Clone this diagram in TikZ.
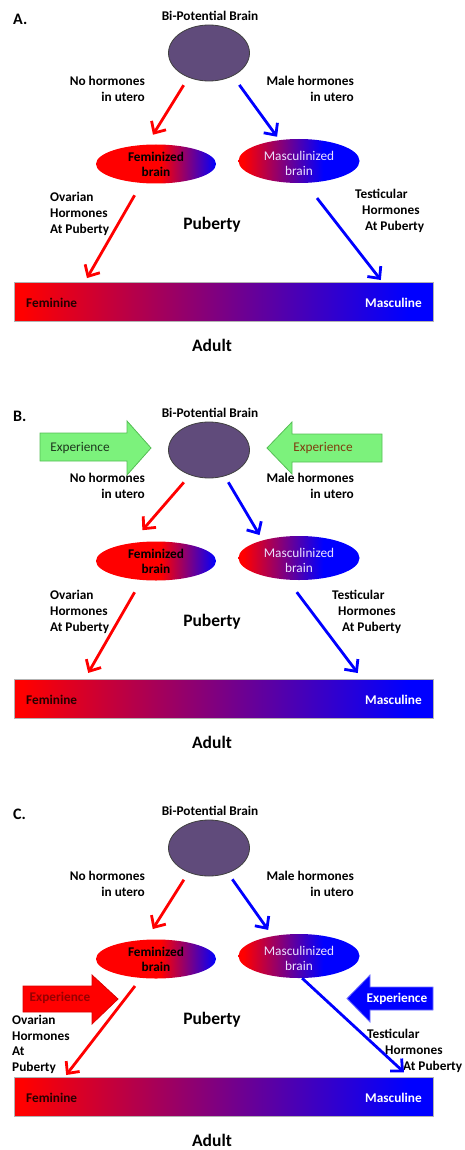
\documentclass[tikz,border=0pt]{standalone}
\usepackage{fontspec}
\setmainfont{Carlito}
\usetikzlibrary{arrows.meta, positioning, shapes.geometric}
\definecolor{brainpurple}{RGB}{96,75,123}
\definecolor{expgreen}{RGB}{124,242,124}
\definecolor{expgreenline}{RGB}{86,190,86}
\definecolor{expbrown}{RGB}{128,60,14}
\definecolor{expdark}{RGB}{30,55,30}
\definecolor{darkred}{RGB}{150,0,0}
\definecolor{lavender}{RGB}{235,225,255}
\pgfdeclarehorizontalshading{femshade}{100bp}{color(0bp)=(red); color(52bp)=(red); color(75bp)=(blue); color(100bp)=(blue)}
\pgfdeclarehorizontalshading{mascshade}{100bp}{color(0bp)=(red); color(27bp)=(red); color(60bp)=(blue); color(100bp)=(blue)}
\pgfdeclarehorizontalshading{barshade}{100bp}{color(0bp)=(red); color(26bp)=(red); color(72bp)=(blue); color(100bp)=(blue)}

\begin{document}
\begin{tikzpicture}[x=1pt, y=-1pt,
  lbl/.style={font=\fontsize{13.3}{16}\selectfont\bfseries, inner sep=0pt},
  big/.style={font=\fontsize{17.5}{20}\selectfont\bfseries, inner sep=0pt},
  panel/.style={font=\fontsize{16}{18}\selectfont\bfseries, inner sep=0pt},
  brain/.style={ellipse, draw=black!75, line width=0.8pt, fill=brainpurple, minimum width=81pt, minimum height=56pt, inner sep=0pt},
  fembrain/.style={ellipse, shade, shading=femshade, minimum width=120pt, minimum height=39pt, inner sep=0pt},
  mascbrain/.style={ellipse, shade, shading=mascshade, minimum width=121pt, minimum height=44pt, inner sep=0pt},
  scalebar/.style={rectangle, draw=black!30, line width=0.6pt, shade, shading=barshade, minimum width=419pt, minimum height=39pt, inner sep=0pt, outer sep=0pt},
  redarr/.style={draw=red, line width=2.8pt, -{Straight Barb[length=9pt,width=17pt]}},
  bluearr/.style={redarr, draw=blue},
  expshape/.style={line width=0.8pt, line join=miter}
]
  \useasboundingbox (0,0) rectangle (464,1150);

  % Shared layout of the three panels
  \foreach \p/\oy in {A/0, B/397, C/795} {
    \begin{scope}[shift={(0,\oy)}]
      \node[panel, anchor=west] (letter\p) at (13,19) {\p.};
      \node[lbl] (bi\p) at (210,16) {Bi-Potential Brain};
      \node[brain] (brain\p) at (209,53) {};
      \node[lbl, anchor=east, align=right] (no\p) at (145,89) {No hormones\\in utero};
      \node[lbl, anchor=east, align=right] (male\p) at (354,89) {Male hormones\\in utero};
      \node[fembrain] (fem\p) at (156,164) {};
      \node[lbl, align=center, font=\fontsize{13.3}{15.5}\selectfont\bfseries] (femlbl\p) at (156,164.5) {Feminized\\brain};
      \node[mascbrain] (masc\p) at (299,161) {};
      \node[lbl, align=center, text=lavender, font=\fontsize{13.3}{15.5}\selectfont] (masclbl\p) at (299,163.5) {Masculinized\\brain};
      \node[big] (pub\p) at (212,225) {Puberty};
      \node[scalebar] (bar\p) at (223.5,301.5) {};
      \node[lbl, anchor=west, text=black!85!red] (femin\p) at (26,303) {Feminine};
      \node[lbl, anchor=east, text=white] (mascu\p) at (422,303) {Masculine};
      \node[big] (adult\p) at (212,345) {Adult};
    \end{scope}
  }

  % Panel A
  \node[lbl, anchor=west, align=left] (ovA) at (50,214) {Ovarian\\Hormones\\At Puberty};
  \node[lbl, anchor=west, align=left] (testA) at (355,211) {Testicular\\\hspace*{7pt}Hormones\\\hspace*{10pt}At Puberty};
  \draw[redarr, shorten <=9pt, shorten >=11.5pt] (brainA.230) -- (femA.115);
  \draw[bluearr, shorten <=11pt, shorten >=4pt] (brainA.316) -- (mascA.133);
  \draw[redarr, shorten <=14pt, shorten >=4.5pt] (femA.233) -- (barA.172);
  \draw[bluearr, shorten <=19pt, shorten >=2.5pt] (mascA.286) -- (barA.7);

  % Panel B
  \node[lbl, anchor=west, align=left] (ovB) at (50,612) {Ovarian\\Hormones\\At Puberty};
  \node[lbl, anchor=west, align=left] (testB) at (332,612) {Testicular\\\hspace*{6pt}Hormones\\\hspace*{10pt}At Puberty};
  \draw[redarr, shorten <=9.5pt, shorten >=17pt] (brainB.233) -- (femB.144);
  \draw[bluearr, shorten <=7pt, shorten >=6pt] (brainB.301) -- (mascB.154);
  \draw[redarr, shorten <=14pt, shorten >=7pt] (femB.233) -- (barB.172);
  \draw[bluearr, shorten <=15.5pt, shorten >=7.5pt] (mascB.242) -- (barB.8);
  \draw[expshape, fill=expgreen, draw=expgreenline] (40,433) -- (127,433) -- (127,421) -- (151,448) -- (127,475) -- (127,461) -- (40,461) -- cycle;
  \node[lbl, font=\fontsize{13.3}{16}\selectfont, text=expdark] (expBL) at (80,448) {Experience};
  \draw[expshape, fill=expgreen, draw=expgreenline] (382,434) -- (292,434) -- (292,422) -- (267,448) -- (292,474) -- (292,462) -- (382,462) -- cycle;
  \node[lbl, font=\fontsize{13.3}{16}\selectfont, text=expbrown] (expBR) at (323,448) {Experience};

  % Panel C
  \node[lbl, anchor=west, align=left, font=\fontsize{13.3}{15.7}\selectfont\bfseries] (ovC) at (12,1044.5) {Ovarian\\Hormones\\At\\Puberty};
  \node[lbl, anchor=west, align=left] (testC) at (367,1051) {Testicular\\\hspace*{18pt}Hormones\\\hspace*{36pt}At Puberty};
  \draw[redarr, shorten <=8.5pt, shorten >=12.5pt] (brainC.230) -- (femC.117);
  \draw[bluearr, shorten <=7.5pt, shorten >=7.5pt] (brainC.307) -- (mascC.143);
  \draw[redarr, shorten <=10pt, shorten >=2.5pt] (femC.232) -- (barC.173);
  \draw[bluearr, shorten >=7pt] (mascC.278) -- (barC.6);
  \draw[expshape, fill=red, draw=red!85!black] (23,986) -- (92,986) -- (92,975) -- (118,999) -- (92,1024) -- (92,1012) -- (23,1012) -- cycle;
  \node[lbl, text=darkred] (expCL) at (60,998) {Experience};
  \draw[expshape, fill=blue, draw=blue!55!white] (433,987) -- (370,987) -- (370,975) -- (347,998.5) -- (370,1022) -- (370,1010) -- (433,1010) -- cycle;
  \node[lbl, text=white] (expCR) at (397,999) {Experience};
\end{tikzpicture}
\end{document}
